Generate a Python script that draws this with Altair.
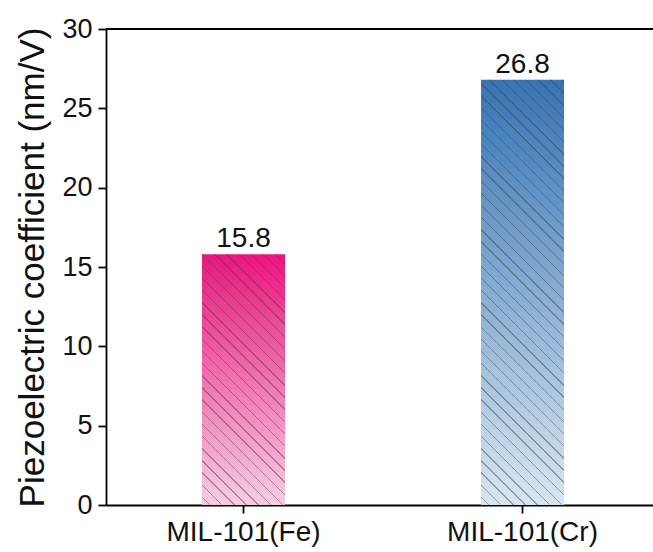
import altair as alt
import pandas as pd

# Measured piezoelectric coefficients of the two MOFs
categories = ["MIL-101(Fe)", "MIL-101(Cr)"]
values = [15.8, 26.8]
top_colors = ["#EA167E", "#3674B4"]
bottom_colors = ["#F8CDE3", "#D8E6F2"]

y_max = 30
major_ticks = [0, 5, 10, 15, 20, 25, 30]
minor_ticks = [2.5, 7.5, 12.5, 17.5, 22.5, 27.5]

FONT = "Liberation Sans"
PLOT_W, PLOT_H = 547, 476
BAR_W = 83          # rendered bar width in px (band width)
HATCH_PERIOD = 8.6  # perpendicular spacing of the hatch lines, px
HATCH_WIDTH = 1.0   # hatch line thickness, px

df = pd.DataFrame({"sample": categories, "value": values})

x_enc = alt.X(
    "sample:N",
    sort=categories,
    scale=alt.Scale(domain=categories, paddingInner=0.7025, paddingOuter=0.3316, align=0.519),
    axis=alt.Axis(
        title=None,
        labelAngle=0,
        labelFont=FONT,
        labelFontSize=28,
        labelColor="#111111",
        labelPadding=5,
        tickSize=8,
    ),
)
y_enc = alt.Y(
    "value:Q",
    scale=alt.Scale(domain=[0, y_max], nice=False, zero=True),
    axis=alt.Axis(
        title="Piezoelectric coefficient (nm/V)",
        titleFont=FONT,
        titleFontSize=35,
        titleFontWeight="normal",
        titleColor="#111111",
        titlePadding=11,
        values=sorted(major_ticks + minor_ticks),
        labelExpr="datum.value % 5 === 0 ? datum.label : ''",
        labelFont=FONT,
        labelFontSize=27,
        labelColor="#111111",
        labelPadding=6,
        labelOverlap=False,
        labelFlush=False,
        tickSize={"condition": {"test": "datum.value % 5 === 0", "value": 8}, "value": 4},
        grid=False,
    ),
)


def vertical_gradient(top, bottom):
    return alt.Gradient(
        gradient="linear",
        x1=0, y1=0, x2=0, y2=1,
        stops=[alt.GradientStop(offset=0, color=top), alt.GradientStop(offset=1, color=bottom)],
    )


def hatch_gradient(bar_h):
    # Diagonal "\\" hatch drawn as hard-stop linear gradient in the bar's bounding box,
    # with the gradient vector chosen so the stripes run at 45 degrees on screen.
    r = BAR_W / bar_h
    b = (r + 1) / (r * r + 1)
    a = r * b
    span = (BAR_W + bar_h) / 2 ** 0.5
    clear = "rgba(0,0,0,0)"
    line = "#404040"
    stops = [alt.GradientStop(offset=0, color=clear)]
    d = HATCH_PERIOD * 0.6
    while d + HATCH_WIDTH < span:
        o1, o2 = d / span, (d + HATCH_WIDTH) / span
        stops += [
            alt.GradientStop(offset=o1, color=clear),
            alt.GradientStop(offset=o1, color=line),
            alt.GradientStop(offset=o2, color=line),
            alt.GradientStop(offset=o2, color=clear),
        ]
        d += HATCH_PERIOD
    stops.append(alt.GradientStop(offset=1, color=clear))
    return alt.Gradient(gradient="linear", x1=0, y1=1, x2=a, y2=1 - b, stops=stops)


layers = []
for name, val, top, bottom in zip(categories, values, top_colors, bottom_colors):
    subset = alt.Chart(df).transform_filter(alt.datum.sample == name)
    layers.append(
        subset.mark_bar(fill=vertical_gradient(top, bottom), strokeWidth=0).encode(x=x_enc, y=y_enc)
    )
    bar_h = val / y_max * PLOT_H
    layers.append(
        subset.mark_bar(fill=hatch_gradient(bar_h), strokeWidth=0, opacity=0.45).encode(x=x_enc, y=y_enc)
    )

labels = alt.Chart(df).mark_text(
    font=FONT, fontSize=28, color="#111111", baseline="alphabetic", dy=-7
).encode(x=x_enc, y=y_enc, text=alt.Text("value:Q", format=".1f"))

top_frame = alt.Chart(pd.DataFrame({"top": [y_max]})).mark_rule(
    color="black", strokeWidth=1.8
).encode(y=alt.Y("top:Q", scale=alt.Scale(domain=[0, y_max], nice=False)))

chart = (
    alt.layer(*layers, labels, top_frame)
    .properties(
        width=PLOT_W,
        height=PLOT_H,
        autosize=alt.AutoSizeParams(type="none"),
        padding={"left": 106, "top": 29, "right": 0, "bottom": 47},
        background="white",
    )
    .configure_view(stroke=None)
    .configure_axis(
        domainColor="black",
        domainWidth=1.8,
        tickColor="black",
        tickWidth=1.8,
    )
)

chart.save("out.html", embed_options={"renderer": "svg", "actions": False})
